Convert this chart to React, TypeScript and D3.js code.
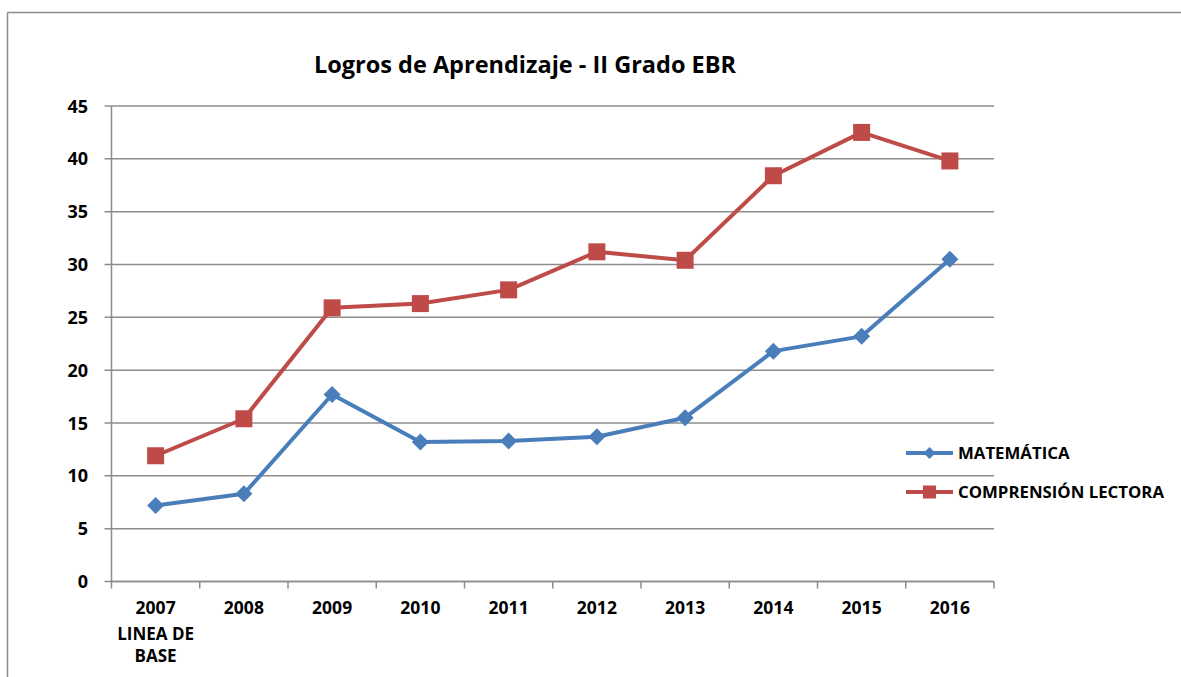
import React from "react";
import * as d3 from "d3";

const categories = ["2007", "2008", "2009", "2010", "2011", "2012", "2013", "2014", "2015", "2016"];
const categorySubLabels = [["LINEA DE", "BASE"], [], [], [], [], [], [], [], [], []];
const matematica = [7.2, 8.3, 17.7, 13.2, 13.3, 13.7, 15.5, 21.8, 23.2, 30.5];
const comprension = [11.9, 15.4, 25.9, 26.3, 27.6, 31.2, 30.4, 38.4, 42.5, 39.8];
const yTicks = [0, 5, 10, 15, 20, 25, 30, 35, 40, 45];

const FONT = "'Open Sans', sans-serif";
const BLUE = "#4A7EBB";
const RED = "#BE4B48";
const GRID = "#8c8c8c";

export default function App() {
  const W = 1181, H = 677;
  const left = 111.5, right = 994, top = 106, bottom = 581.5;
  const x = d3.scaleBand<string>().domain(categories).range([left, right]);
  const y = d3.scaleLinear().domain([0, 45]).range([bottom, top]);
  const cx = (c: string) => (x(c) as number) + x.bandwidth() / 2;
  const line = d3.line<number>().x((_, i) => cx(categories[i])).y((v) => y(v));

  const diamond = (px: number, py: number, r: number) =>
    `M${px},${py - r}L${px + r},${py}L${px},${py + r}L${px - r},${py}Z`;

  return (
    <svg width={W} height={H} style={{ position: "absolute", left: 0, top: 0 }}>
      <rect x={0} y={0} width={W} height={H} fill="white" />
      {/* frame */}
      <line x1={7.5} y1={12.5} x2={W} y2={12.5} stroke={GRID} strokeWidth={1.5} />
      <line x1={7.5} y1={12.5} x2={7.5} y2={H} stroke={GRID} strokeWidth={1.5} />
      {/* title */}
      <text x={525} y={73} textAnchor="middle" fontFamily={FONT} fontWeight="bold" fontSize={23.5} fill="#000">
        Logros de Aprendizaje - II Grado EBR
      </text>
      {/* gridlines + y ticks */}
      {yTicks.map((t) => (
        <g key={t}>
          <line x1={left - 7} x2={right} y1={y(t)} y2={y(t)} stroke={GRID} strokeWidth={1.5} />
          <text x={88} y={y(t) + 6.5} textAnchor="end" fontFamily={FONT} fontWeight="bold" fontSize={18} fill="#000">
            {t}
          </text>
        </g>
      ))}
      {/* axes */}
      <line x1={left} x2={left} y1={top} y2={bottom} stroke={GRID} strokeWidth={1.5} />
      <line x1={left} x2={right} y1={bottom} y2={bottom} stroke={GRID} strokeWidth={1.5} />
      {categories.map((c, i) => (
        <line key={"t" + i} x1={x(c) as number} x2={x(c) as number} y1={bottom} y2={bottom + 7} stroke={GRID} strokeWidth={1.5} />
      ))}
      <line x1={right} x2={right} y1={bottom} y2={bottom + 7} stroke={GRID} strokeWidth={1.5} />
      {categories.map((c, i) => (
        <g key={"l" + i}>
          <text x={cx(c)} y={614} textAnchor="middle" fontFamily={FONT} fontWeight="bold" fontSize={17.5} fill="#000">
            {c}
          </text>
          {categorySubLabels[i].map((s, j) => (
            <text key={j} x={cx(c)} y={640 + j * 22} textAnchor="middle" fontFamily={FONT} fontWeight="bold" fontSize={17} fill="#000">
              {s}
            </text>
          ))}
        </g>
      ))}
      {/* series */}
      <path d={line(comprension) || ""} fill="none" stroke={RED} strokeWidth={4} strokeLinejoin="round" />
      {comprension.map((v, i) => (
        <rect key={"c" + i} x={cx(categories[i]) - 8.5} y={y(v) - 8.5} width={17} height={17} fill={RED} />
      ))}
      <path d={line(matematica) || ""} fill="none" stroke={BLUE} strokeWidth={4} strokeLinejoin="round" />
      {matematica.map((v, i) => (
        <path key={"m" + i} d={diamond(cx(categories[i]), y(v), 8.5)} fill={BLUE} />
      ))}
      {/* legend */}
      <line x1={906} x2={953} y1={453} y2={453} stroke={BLUE} strokeWidth={4} />
      <path d={diamond(929.5, 453, 6)} fill={BLUE} />
      <text x={958} y={459} fontFamily={FONT} fontWeight="bold" fontSize={16.8} fill="#000">MATEMÁTICA</text>
      <line x1={906} x2={953} y1={492} y2={492} stroke={RED} strokeWidth={4} />
      <rect x={923} y={485.5} width={13} height={13} fill={RED} />
      <text x={958} y={498} fontFamily={FONT} fontWeight="bold" fontSize={16.8} fill="#000">COMPRENSIÓN LECTORA</text>
    </svg>
  );
}
